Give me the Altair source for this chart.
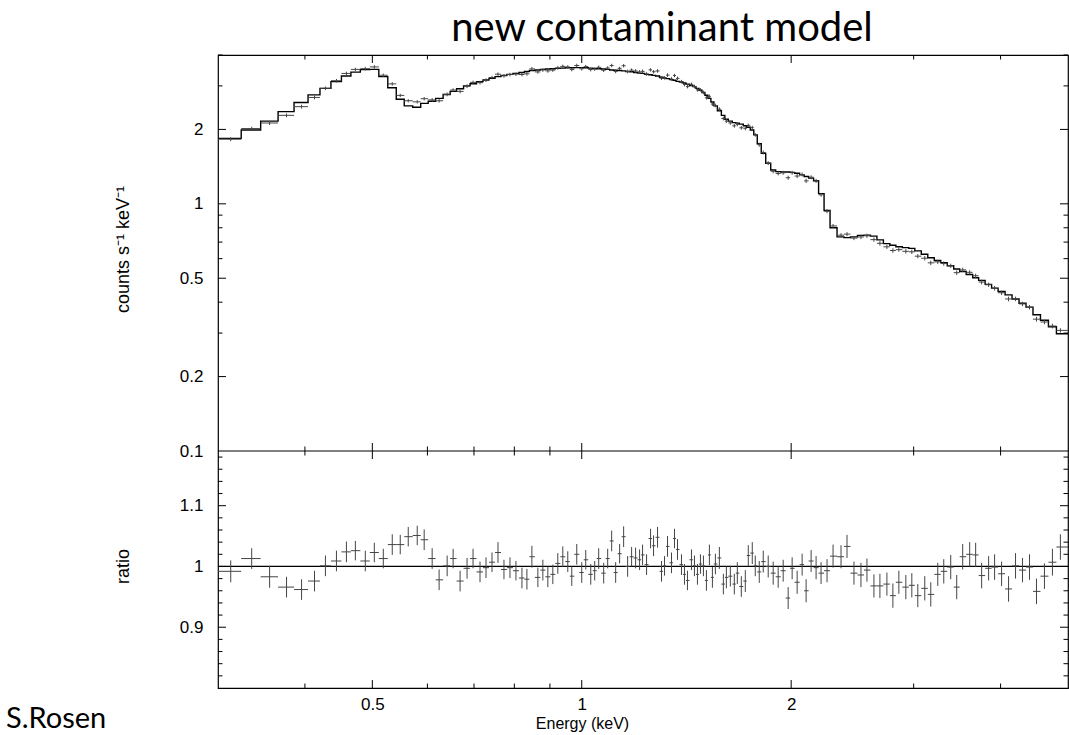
import altair as alt
import numpy as np
import pandas as pd

# ---------------- data ----------------
energy = [
    0.3129, 0.3354, 0.3559, 0.3764, 0.3956, 0.4129, 0.4281, 0.4440, 0.4589, 0.4727,
    0.4885, 0.5033, 0.5185, 0.5341, 0.5484, 0.5631, 0.5801, 0.5936, 0.6095, 0.6237,
    0.6405, 0.6533, 0.6685, 0.6841, 0.6978, 0.7141, 0.7284, 0.7430, 0.7579, 0.7730,
    0.7885, 0.8043, 0.8204, 0.8340, 0.8479, 0.8648, 0.8792, 0.8938, 0.9087, 0.9238,
    0.9392, 0.9548, 0.9675, 0.9836, 1.0000, 1.0133, 1.0302, 1.0438, 1.0577, 1.0753,
    1.0896, 1.1041, 1.1188, 1.1336, 1.1487, 1.1640, 1.1794, 1.1951, 1.2110, 1.2230,
    1.2393, 1.2558, 1.2683, 1.2851, 1.3022, 1.3152, 1.3283, 1.3459, 1.3593, 1.3729,
    1.3911, 1.4049, 1.4189, 1.4378, 1.4521, 1.4666, 1.4812, 1.4959, 1.5108, 1.5258,
    1.5410, 1.5563, 1.5770, 1.5980, 1.6139, 1.6353, 1.6570, 1.6735, 1.6958, 1.7183,
    1.7354, 1.7584, 1.7759, 1.7995, 1.8234, 1.8537, 1.8845, 1.9159, 1.9478, 1.9802,
    2.0065, 2.0400, 2.0739, 2.1015, 2.1365, 2.1720, 2.2081, 2.2523, 2.2974, 2.3588,
    2.4060, 2.4622, 2.5198, 2.5702, 2.6303, 2.6829, 2.7456, 2.8005, 2.8565, 2.9233,
    2.9817, 3.0413, 3.1124, 3.1747, 3.2491, 3.3141, 3.3915, 3.4593, 3.5285, 3.6110,
    3.6832, 3.7569, 3.8447, 3.9216, 4.0132, 4.1070, 4.2030, 4.3012, 4.4017, 4.5046,
    4.6251, 4.7488, 4.8758,
]

model = [
    1.84, 1.99, 2.16, 2.36, 2.57, 2.76, 2.93, 3.12, 3.29, 3.41,
    3.49, 3.50, 3.27, 2.95, 2.65, 2.49, 2.46, 2.55, 2.60, 2.67,
    2.77, 2.85, 2.92, 3.00, 3.06, 3.12, 3.17, 3.22, 3.27, 3.31,
    3.34, 3.37, 3.40, 3.43, 3.46, 3.48, 3.50, 3.51, 3.52, 3.53,
    3.54, 3.55, 3.55, 3.555, 3.555, 3.55, 3.54, 3.53, 3.52, 3.51,
    3.50, 3.48, 3.47, 3.46, 3.45, 3.43, 3.42, 3.40, 3.38, 3.37,
    3.34, 3.33, 3.31, 3.29, 3.25, 3.23, 3.21, 3.18, 3.16, 3.13,
    3.11, 3.08, 3.05, 3.01, 2.98, 2.93, 2.88, 2.82, 2.75, 2.67,
    2.58, 2.49, 2.38, 2.28, 2.20, 2.16, 2.13, 2.12, 2.10, 2.07,
    2.04, 1.99, 1.90, 1.75, 1.60, 1.46, 1.37, 1.35, 1.345, 1.345,
    1.34, 1.33, 1.31, 1.29, 1.27, 1.24, 1.10, 0.94, 0.80, 0.735,
    0.73, 0.735, 0.745, 0.747, 0.74, 0.715, 0.69, 0.68, 0.67, 0.665,
    0.66, 0.645, 0.625, 0.605, 0.59, 0.578, 0.562, 0.545, 0.532, 0.518,
    0.502, 0.49, 0.472, 0.456, 0.442, 0.428, 0.412, 0.396, 0.382, 0.356,
    0.338, 0.318, 0.298,
]

ratio = [
    0.992, 1.013, 0.983, 0.966, 0.962, 0.976, 1.001, 1.009, 1.024, 1.026,
    1.009, 1.023, 1.013, 1.036, 1.036, 1.049, 1.051, 1.044, 1.013, 0.978,
    1.001, 1.013, 0.976, 0.997, 1.013, 0.991, 0.998, 1.007, 1.023, 0.995,
    0.998, 0.993, 0.981, 0.979, 1.016, 0.982, 0.994, 0.983, 0.987, 1.005,
    1.016, 1.008, 0.984, 1.020, 0.990, 1.011, 0.987, 0.993, 1.013, 0.989,
    1.013, 1.042, 0.990, 1.021, 1.049, 1.000, 1.016, 1.014, 1.011, 1.019,
    1.003, 1.046, 1.034, 1.048, 0.992, 1.001, 1.033, 1.006, 1.046, 1.028,
    1.003, 0.987, 0.977, 1.011, 1.001, 0.987, 1.004, 1.001, 0.977, 1.019,
    0.982, 1.004, 1.014, 0.971, 0.982, 0.984, 0.971, 0.989, 0.967, 0.976,
    1.018, 1.022, 1.001, 0.991, 1.008, 1.000, 0.989, 0.983, 0.993, 0.948,
    0.997, 0.974, 1.003, 0.960, 1.009, 0.998, 0.989, 0.993, 1.017, 1.016,
    1.033, 0.989, 0.986, 0.994, 0.968, 0.968, 0.971, 0.952, 0.974, 0.966,
    0.969, 0.952, 0.964, 0.954, 0.987, 0.992, 0.999, 0.966, 1.016, 1.020,
    1.019, 0.985, 0.997, 0.999, 0.988, 0.963, 1.001, 0.994, 0.999, 0.959,
    0.984, 1.007, 1.032,
]

ratio_err = [
    0.018, 0.017, 0.018, 0.017, 0.017, 0.017, 0.017, 0.017, 0.017, 0.016,
    0.017, 0.016, 0.016, 0.017, 0.016, 0.016, 0.016, 0.017, 0.017, 0.017,
    0.017, 0.016, 0.017, 0.017, 0.016, 0.017, 0.017, 0.016, 0.017, 0.016,
    0.017, 0.016, 0.017, 0.017, 0.018, 0.016, 0.017, 0.017, 0.016, 0.017,
    0.017, 0.017, 0.016, 0.017, 0.017, 0.016, 0.017, 0.016, 0.017, 0.017,
    0.016, 0.017, 0.017, 0.016, 0.017, 0.017, 0.016, 0.017, 0.017, 0.017,
    0.017, 0.016, 0.017, 0.017, 0.017, 0.016, 0.017, 0.017, 0.016, 0.017,
    0.017, 0.017, 0.016, 0.017, 0.017, 0.017, 0.016, 0.017, 0.017, 0.017,
    0.017, 0.017, 0.018, 0.017, 0.018, 0.017, 0.017, 0.018, 0.017, 0.018,
    0.017, 0.018, 0.017, 0.018, 0.018, 0.018, 0.019, 0.018, 0.018, 0.018,
    0.018, 0.019, 0.018, 0.019, 0.018, 0.019, 0.018, 0.019, 0.019, 0.019,
    0.019, 0.019, 0.020, 0.019, 0.019, 0.020, 0.019, 0.020, 0.019, 0.020,
    0.020, 0.019, 0.020, 0.020, 0.019, 0.020, 0.020, 0.020, 0.021, 0.020,
    0.020, 0.021, 0.020, 0.021, 0.020, 0.021, 0.021, 0.020, 0.021, 0.021,
    0.021, 0.022, 0.021,
]

x_labels = [0.5, 1, 2]
x_minor = [0.4, 0.6, 0.7, 0.8, 0.9, 3, 4]
y_labels = [0.1, 0.2, 0.5, 1, 2]
y_major = [0.2, 0.5, 1, 2]
y_minor = [0.3, 0.4, 0.6, 0.7, 0.8, 0.9, 3, 4]
r_labels = [0.9, 1, 1.1]
r_minor = [0.82, 0.84, 0.86, 0.88, 0.92, 0.94, 0.96, 0.98,
           1.02, 1.04, 1.06, 1.08, 1.12, 1.14, 1.16, 1.18]
unity = [1.0]

E_RANGE = [0.3, 5.0]
Y_RANGE = [0.1, 4.0]
R_RANGE = [0.8, 1.19]

# ---------------- derived tables ----------------
c = np.array(energy)
edges = np.concatenate([[E_RANGE[0]], np.sqrt(c[:-1] * c[1:]), [E_RANGE[1]]])
df = pd.DataFrame({
    "e": c, "lo": edges[:-1], "hi": edges[1:],
    "model": model, "ratio": ratio, "err": ratio_err,
})
df["data"] = df["model"] * df["ratio"]
df["dlo"] = df["data"] - df["model"] * df["err"]
df["dhi"] = df["data"] + df["model"] * df["err"]
df["rlo"] = df["ratio"] - df["err"]
df["rhi"] = df["ratio"] + df["err"]

step = pd.DataFrame({"x": edges, "y": list(model) + [model[-1]]})

# ---------------- layout constants ----------------
W, H = 850, 633
HU = 396
AX_FONT = "Liberation Sans"
T_FONT = "Lato"
GREY = "#454545"
MAJ, MIN = 8, 4.5

xs = alt.Scale(type="log", domain=E_RANGE)
x_axis = alt.Axis(values=x_labels, format="~g", ticks=False, domain=False, grid=False,
                  labelPadding=8, labelFontSize=17, title="Energy (keV)",
                  titleFontSize=16, titleX=364, titleY=40, titleBaseline="alphabetic",
                  titleAlign="center")

ys_up = alt.Scale(type="log", domain=Y_RANGE, range=[HU, 0])
y_up_axis = alt.Axis(values=y_labels, format="~g", orient="left", ticks=False,
                     domain=False, grid=False, labelPadding=15, labelFontSize=17,
                     title="counts s⁻¹ keV⁻¹", titleFontSize=18, titleX=-90, titleY=194,
                     titleAngle=270, titleBaseline="alphabetic", titleAlign="center")

ys_lo = alt.Scale(type="linear", domain=R_RANGE, range=[H, HU], zero=False, nice=False)
y_lo_axis = alt.Axis(values=r_labels, format="~g", orient="left", ticks=False,
                     domain=False, grid=False, labelPadding=15, labelFontSize=17,
                     title="ratio", titleFontSize=18, titleX=-90, titleY=511,
                     titleAngle=270, titleBaseline="alphabetic", titleAlign="center")


def X(f):
    return alt.X(f, type="quantitative", scale=xs, axis=x_axis)


def YU(f):
    return alt.Y(f, type="quantitative", scale=ys_up, axis=y_up_axis)


def YL(f):
    return alt.Y(f, type="quantitative", scale=ys_lo, axis=y_lo_axis)


def hticks(values, yenc, x0, x1):
    return alt.Chart(pd.DataFrame({"v": values})).mark_rule(
        color="black", strokeWidth=1).encode(y=yenc("v"), x=alt.value(x0), x2=alt.value(x1))


def vticks(values, y0, y1):
    return alt.Chart(pd.DataFrame({"v": values})).mark_rule(
        color="black", strokeWidth=1).encode(x=X("v"), y=alt.value(y0), y2=alt.value(y1))


# ---------------- upper panel ----------------
model_line = alt.Chart(step).mark_line(interpolate="step-after", color="black",
                                       strokeWidth=1.4).encode(x=X("x"), y=YU("y"))
data_h = alt.Chart(df).mark_rule(color=GREY, strokeWidth=1).encode(
    x=X("lo"), x2="hi", y=YU("data"))
data_v = alt.Chart(df).mark_rule(color=GREY, strokeWidth=1).encode(
    x=X("e"), y=YU("dlo"), y2="dhi")
sep = alt.Chart(pd.DataFrame({"v": [Y_RANGE[0]]})).mark_rule(
    color="black", strokeWidth=1.2).encode(y=YU("v"))

upper = alt.layer(
    model_line, data_h, data_v, sep,
    hticks(y_major, YU, 0, MAJ), hticks(y_minor, YU, 0, MIN),
    hticks(y_major, YU, W, W - MAJ), hticks(y_minor, YU, W, W - MIN),
    vticks(x_labels, 0, MAJ), vticks(x_minor, 0, MIN),
    vticks(x_labels, HU - MAJ, HU + MAJ), vticks(x_minor, HU - MIN, HU + MIN),
)

# ---------------- lower panel ----------------
unity_line = alt.Chart(pd.DataFrame({"v": unity})).mark_rule(
    color="black", strokeWidth=1.3).encode(y=YL("v"))
ratio_h = alt.Chart(df).mark_rule(color=GREY, strokeWidth=1).encode(
    x=X("lo"), x2="hi", y=YL("ratio"))
ratio_v = alt.Chart(df).mark_rule(color=GREY, strokeWidth=1).encode(
    x=X("e"), y=YL("rlo"), y2="rhi")
author = alt.Chart(pd.DataFrame({"t": ["S.Rosen"]})).mark_text(
    align="left", baseline="alphabetic", font=T_FONT, fontSize=29, color="black"
).encode(text="t:N", x=alt.value(-212), y=alt.value(673))

lower = alt.layer(
    unity_line, ratio_h, ratio_v,
    hticks(r_labels, YL, 0, MAJ), hticks(r_minor, YL, 0, MIN),
    hticks(r_labels, YL, W, W - MAJ), hticks(r_minor, YL, W, W - MIN),
    vticks(x_labels, H, H - MAJ), vticks(x_minor, H, H - MIN),
    author,
)

chart = alt.layer(upper, lower).resolve_scale(y="independent").properties(
    width=W, height=H,
    title=alt.TitleParams("new contaminant model", font=T_FONT, fontSize=40,
                          fontWeight="normal", color="black", anchor="middle",
                          frame="group", baseline="alphabetic", offset=12, dx=19, dy=38),
    autosize=alt.AutoSizeParams(type="none"),
    padding={"left": 218, "top": 55, "right": 1, "bottom": 47},
).configure_view(stroke="black", strokeWidth=1.2).configure_axis(
    labelFont=AX_FONT, titleFont=AX_FONT, labelColor="black", titleColor="black",
    titleFontWeight="normal",
)

chart.save("out.html", embed_options={"renderer": "svg", "actions": False})
